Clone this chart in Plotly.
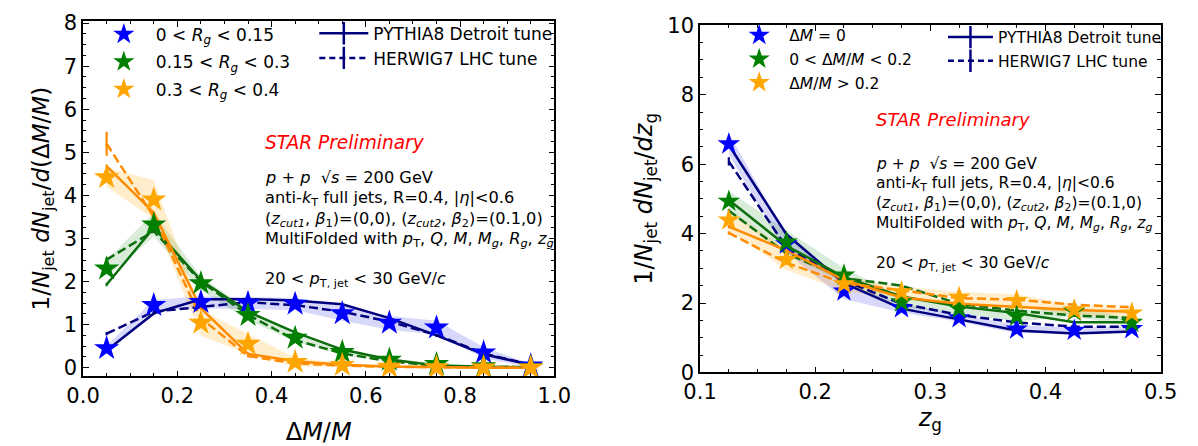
import numpy as np
import plotly.graph_objects as go

W, H = 1198, 446
FONT = "DejaVu Sans"

# ---------------- Left panel: dN/d(ΔM/M) in three R_g intervals ----------------
dm_bins = [0.05, 0.15, 0.25, 0.35, 0.45, 0.55, 0.65, 0.75, 0.85, 0.95]

rg1_data = [0.45, 1.45, 1.52, 1.50, 1.48, 1.26, 1.04, 0.93, 0.35, 0.05]
rg1_sys = [0.06, 0.12, 0.14, 0.14, 0.14, 0.17, 0.16, 0.16, 0.13, 0.04]
rg2_data = [2.30, 3.32, 1.96, 1.22, 0.69, 0.36, 0.18, 0.08, 0.03, 0.01]
rg2_sys = [0.20, 0.28, 0.16, 0.12, 0.08, 0.06, 0.04, 0.02, 0.02, 0.01]
rg3_data = [4.42, 3.90, 1.04, 0.55, 0.13, 0.06, 0.02, 0.01, 0.00, 0.00]
rg3_sys = [0.22, 0.45, 0.30, 0.23, 0.10, 0.05, 0.02, 0.02, 0.01, 0.01]

rg1_pythia = [0.40, 1.26, 1.59, 1.59, 1.56, 1.47, 1.15, 0.75, 0.31, 0.07]
rg1_herwig = [0.79, 1.30, 1.41, 1.52, 1.45, 1.30, 1.07, 0.76, 0.33, 0.07]
rg2_pythia = [1.93, 3.25, 2.03, 1.30, 0.82, 0.42, 0.19, 0.05, 0.02, 0.01]
rg2_herwig = [2.51, 3.17, 2.00, 1.23, 0.64, 0.33, 0.15, 0.04, 0.02, 0.01]
rg3_pythia = [4.68, 3.60, 1.38, 0.32, 0.15, 0.07, 0.03, 0.01, 0.00, 0.00]
rg3_herwig = [5.20, 3.50, 1.15, 0.27, 0.10, 0.05, 0.02, 0.01, 0.00, 0.00]
mc_stat_left = [0.04, 0.03, 0.03, 0.03, 0.03, 0.03, 0.03, 0.03, 0.03, 0.03]
rg3_herwig_stat = [0.28, 0.05, 0.04, 0.03, 0.02, 0.02, 0.01, 0.01, 0.01, 0.01]

# ---------------- Right panel: dN/dz_g in three ΔM/M intervals ----------------
zg_bins = [0.125, 0.175, 0.225, 0.275, 0.325, 0.375, 0.425, 0.475]

dm0_data = [6.58, 3.70, 2.34, 1.86, 1.57, 1.25, 1.21, 1.26]
dm0_sys = [0.30, 0.25, 0.22, 0.13, 0.11, 0.12, 0.08, 0.08]
dmlow_data = [4.93, 3.75, 2.80, 2.03, 1.84, 1.62, 1.76, 1.44]
dmlow_sys = [0.30, 0.35, 0.20, 0.16, 0.15, 0.15, 0.15, 0.12]
dmhigh_data = [4.39, 3.25, 2.55, 2.32, 2.16, 2.07, 1.80, 1.71]
dmhigh_sys = [0.30, 0.30, 0.20, 0.16, 0.16, 0.18, 0.15, 0.12]

dm0_pythia = [6.55, 3.98, 2.57, 1.84, 1.53, 1.21, 1.12, 1.18]
dm0_herwig = [6.08, 3.60, 2.65, 1.98, 1.66, 1.44, 1.32, 1.32]
dmlow_pythia = [4.97, 3.65, 2.75, 2.19, 1.90, 1.71, 1.45, 1.45]
dmlow_herwig = [4.66, 3.43, 2.72, 2.50, 1.98, 1.78, 1.64, 1.57]
dmhigh_pythia = [4.20, 3.52, 2.66, 2.16, 1.98, 1.89, 1.80, 1.75]
dmhigh_herwig = [4.02, 3.16, 2.57, 2.37, 2.14, 2.10, 1.95, 1.88]
mc_stat_right = [0.05, 0.04, 0.03, 0.03, 0.03, 0.03, 0.03, 0.03]
dm0_herwig_stat = [0.12, 0.04, 0.03, 0.03, 0.03, 0.03, 0.03, 0.03]

# legend labels
left_labels = ["0 &lt; <i>R<sub>g</sub></i> &lt; 0.15",
               "0.15 &lt; <i>R<sub>g</sub></i> &lt; 0.3",
               "0.3 &lt; <i>R<sub>g</sub></i> &lt; 0.4"]
right_labels = ["Δ<i>M</i> = 0",
                "0 &lt; Δ<i>M</i>/<i>M</i> &lt; 0.2",
                "Δ<i>M</i>/<i>M</i> &gt; 0.2"]
mc_labels = ["PYTHIA8 Detroit tune", "HERWIG7 LHC tune"]

STAR_COLORS = ["#0000ff", "#008000", "#ffa500"]
LINE_COLORS = ["#00007f", "#0d6e0d", "#ff8c00"]
BAND_COLORS = ["rgba(60,60,230,0.20)", "rgba(0,128,0,0.15)", "rgba(255,165,0,0.20)"]
DASH = "9px,4px"

fig = go.Figure()


def add_panel(xv, data, sys, pythia, herwig, py_err, hw_err, xa, ya, star_size):
    xv = np.asarray(xv)
    # uncertainty bands
    for d, s, bc in zip(data, sys, BAND_COLORS):
        d, s = np.asarray(d), np.asarray(s)
        fig.add_trace(go.Scatter(
            x=np.concatenate([xv, xv[::-1]]),
            y=np.concatenate([d + s, (d - s)[::-1]]),
            fill="toself", fillcolor=bc, line=dict(width=0),
            mode="lines", hoverinfo="skip", showlegend=False,
            xaxis=xa, yaxis=ya))
    # model curves
    for py, hw, pe, he, lc in zip(pythia, herwig, py_err, hw_err, LINE_COLORS):
        fig.add_trace(go.Scatter(
            x=xv, y=py, mode="lines", line=dict(color=lc, width=2.5),
            error_y=dict(type="data", array=pe, color=lc, thickness=2.2, width=0),
            showlegend=False, xaxis=xa, yaxis=ya))
        fig.add_trace(go.Scatter(
            x=xv, y=hw, mode="lines", line=dict(color=lc, width=2.5, dash=DASH),
            error_y=dict(type="data", array=he, color=lc, thickness=2.2, width=0),
            showlegend=False, xaxis=xa, yaxis=ya))
    # measured points
    for d, sc in zip(data, STAR_COLORS):
        fig.add_trace(go.Scatter(
            x=xv, y=d, mode="markers",
            marker=dict(symbol="star", size=star_size, color=sc, line=dict(width=0)),
            showlegend=False, xaxis=xa, yaxis=ya))


add_panel(dm_bins, [rg1_data, rg2_data, rg3_data], [rg1_sys, rg2_sys, rg3_sys],
          [rg1_pythia, rg2_pythia, rg3_pythia], [rg1_herwig, rg2_herwig, rg3_herwig],
          [mc_stat_left] * 3, [mc_stat_left, mc_stat_left, rg3_herwig_stat],
          "x", "y", 19)
add_panel(zg_bins, [dm0_data, dmlow_data, dmhigh_data], [dm0_sys, dmlow_sys, dmhigh_sys],
          [dm0_pythia, dmlow_pythia, dmhigh_pythia], [dm0_herwig, dmlow_herwig, dmhigh_herwig],
          [mc_stat_right] * 3, [dm0_herwig_stat, mc_stat_right, mc_stat_right],
          "x2", "y2", 17)

# ---------------- legends: one per entry for exact placement ----------------
legends = {}
n = 0


def legend_entry(name, kind, color, px, py, size, itemwidth, xa, ya):
    global n
    n += 1
    key = "legend" if n == 1 else f"legend{n}"
    if kind == "star":
        tr = go.Scatter(x=[None], y=[None], mode="markers", name=name,
                        marker=dict(symbol="star", size=18, color=color, line=dict(width=0)))
    else:
        tr = go.Scatter(x=[None], y=[None], mode="lines+markers", name=name,
                        line=dict(color=color, width=2.5, dash=None if kind == "solid" else "6px,4px"),
                        marker=dict(symbol="line-ns", size=16, color=color,
                                    line=dict(width=2.5, color=color)))
    tr.update(legend=key, xaxis=xa, yaxis=ya, showlegend=True)
    fig.add_trace(tr)
    legends[key] = dict(x=px / W, y=1 - py / H, xanchor="left", yanchor="middle",
                        bgcolor="rgba(0,0,0,0)", borderwidth=0, itemwidth=itemwidth,
                        itemsizing="trace",
                        font=dict(family=FONT, size=size, color="black"))


for i, lab in enumerate(left_labels):
    legend_entry(lab, "star", STAR_COLORS[i], 77, [24, 53, 82][i], 17, 54, "x", "y")
for i, lab in enumerate(mc_labels):
    legend_entry(lab, "solid" if i == 0 else "dash", "#00007f", 306, [23, 49][i], 17, 49, "x", "y")
for i, lab in enumerate(right_labels):
    legend_entry(lab, "star", STAR_COLORS[i], 733, [25, 50, 75][i], 15.5, 50, "x2", "y2")
for i, lab in enumerate(mc_labels):
    legend_entry(lab, "solid" if i == 0 else "dash", "#00007f", 953, [27, 52][i], 15.5, 45, "x2", "y2")

# ---------------- text blocks ----------------
info_lines = [
    "<i>p</i> + <i>p</i>  √<i>s</i> = 200 GeV",
    "anti-<i>k</i><sub>T</sub> full jets, R=0.4, |<i>η</i>|&lt;0.6",
    "(<i>z<sub>cut1</sub></i>, <i>β</i><sub>1</sub>)=(0,0), (<i>z<sub>cut2</sub></i>, <i>β</i><sub>2</sub>)=(0.1,0)",
    "MultiFolded with <i>p</i><sub>T</sub>, <i>Q</i>, <i>M</i>, <i>M<sub>g</sub></i>, <i>R<sub>g</sub></i>, <i>z<sub>g</sub></i>",
    "20 &lt; <i>p</i><sub>T, jet</sub> &lt; 30 GeV/<i>c</i>",
]
annotations = []


def text_block(x0, y_star, ys, size, star_size):
    annotations.append(dict(text="<i>STAR Preliminary</i>", x=x0 / W, y=1 - y_star / H,
                            xref="paper", yref="paper", xanchor="left", yanchor="middle",
                            showarrow=False, font=dict(family=FONT, size=star_size, color="#ff0000")))
    for t, yy in zip(info_lines, ys):
        annotations.append(dict(text=t, x=x0 / W, y=1 - yy / H, xref="paper", yref="paper",
                                xanchor="left", yanchor="middle", showarrow=False,
                                font=dict(family=FONT, size=size, color="black")))


text_block(253, 138, [175, 197.5, 219, 240, 283], 16.2, 18.6)
text_block(882, 114, [161, 182, 203, 224, 266], 15.5, 18)

# ---------------- axes ----------------
def axis(title, rng, dtick, minor, domain, fmt=None, standoff=6, anchor=None, tsize=22):
    d = dict(title=dict(text=title, font=dict(family=FONT, size=tsize, color="black"), standoff=standoff),
             range=rng, dtick=dtick, tick0=0, domain=domain, anchor=anchor,
             ticks="inside", ticklen=6, tickwidth=1.3, tickcolor="black",
             minor=dict(dtick=minor, ticks="inside", ticklen=3.5, tickwidth=1, tickcolor="black"),
             showline=True, linecolor="black", linewidth=1.5, mirror="allticks",
             showgrid=False, zeroline=False,
             tickfont=dict(family=FONT, size=21, color="black"))
    if fmt:
        d["tickformat"] = fmt
    return d


fig.update_layout(
    width=W, height=H, margin=dict(l=0, r=0, t=0, b=0),
    paper_bgcolor="white", plot_bgcolor="white",
    xaxis=axis("Δ<i>M</i>/<i>M</i>", [0, 1.0], 0.2, 0.05, [68 / W, 553 / W], ".1f", 16, "y", 24),
    yaxis=axis("1/<i>N</i><sub>jet</sub> <i>dN</i><sub>jet</sub>/<i>d</i>(Δ<i>M</i>/<i>M</i>)",
               [-0.2, 8.05], 1, 0.25, [1 - 385 / H, 1 - 9.5 / H], None, 8, "x", 23),
    xaxis2=axis("<i>z</i><sub>g</sub>", [0.1, 0.5], 0.1, 0.025, [703 / W, 1177 / W], ".1f", 5, "y2", 24),
    yaxis2=axis("1/<i>N</i><sub>jet</sub> <i>dN</i><sub>jet</sub>/<i>dz</i><sub>g</sub>",
                [0, 10], 2, 0.5, [1 - 381 / H, 1 - 14 / H], None, 8, "x2", 24),
    annotations=annotations,
    **legends,
)

fig.write_html("out.html")
